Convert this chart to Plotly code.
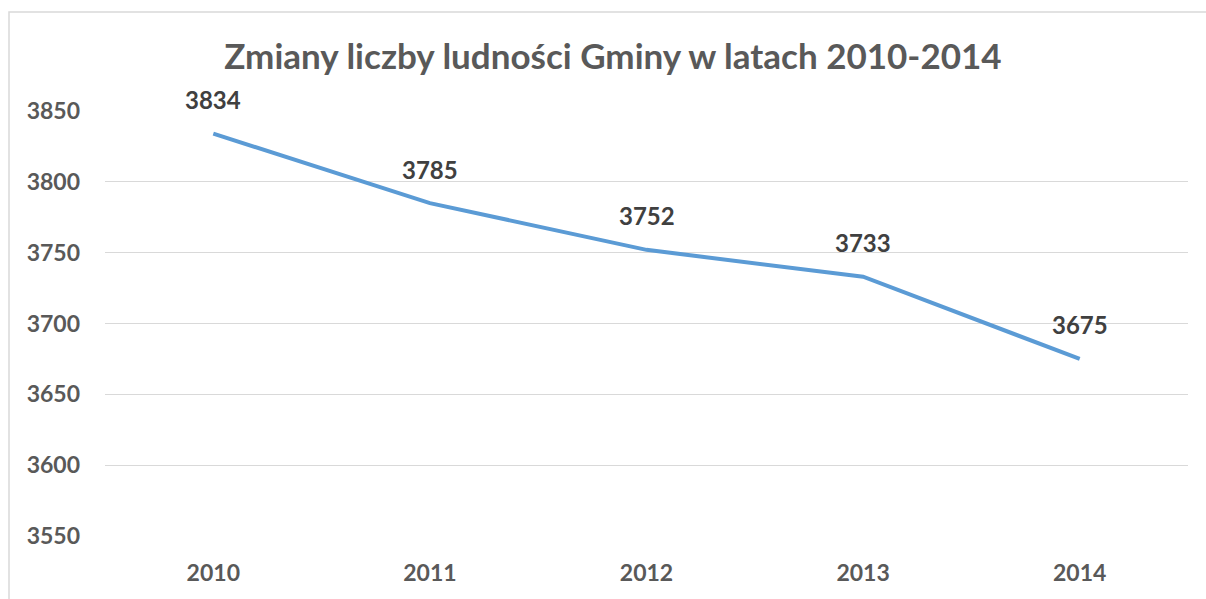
import plotly.graph_objects as go

years = ["2010", "2011", "2012", "2013", "2014"]
population = [3834, 3785, 3752, 3733, 3675]
y_ticks = [3550, 3600, 3650, 3700, 3750, 3800, 3850]
title = "Zmiany liczby ludności Gminy w latach 2010-2014"

FONT = "Lato, 'Open Sans', sans-serif"
W, H = 1206, 599
ml, mr, mt, mb = 105, 18, 111, 63
pw, ph = W - ml - mr, H - mt - mb

fig = go.Figure()
fig.add_trace(go.Scatter(
    x=years, y=population, mode="lines",
    line=dict(color="#5B9BD5", width=4),
    hoverinfo="x+y",
))

for i, v in enumerate(population):
    fig.add_annotation(
        x=i, y=v, text=str(v), showarrow=False,
        yshift=34, font=dict(family=FONT, size=24, color="#404040", weight="bold"),
    )

fig.add_shape(
    type="rect", xref="paper", yref="paper",
    x0=(9 - ml) / pw, x1=1.2, y0=-0.5, y1=(H - mb - 12) / ph,
    line=dict(color="#D9D9D9", width=1.5), layer="below",
)

fig.update_layout(
    width=W, height=H,
    margin=dict(l=ml, r=mr, t=mt, b=mb, autoexpand=False),
    paper_bgcolor="white", plot_bgcolor="white",
    showlegend=False,
    title=dict(
        text=title, x=613 / W, xanchor="center",
        y=(H - 57) / H, yanchor="middle",
        font=dict(family=FONT, size=35, color="#595959", weight="bold"),
    ),
    xaxis=dict(
        type="category", categoryorder="array", categoryarray=years,
        range=[-0.5, len(years) - 0.5], autorange=False,
        showgrid=False, zeroline=False, showline=False,
        ticks="", tickfont=dict(family=FONT, size=23, color="#595959", weight="bold"),
        ticklabelstandoff=21,
    ),
    yaxis=dict(
        range=[3550, 3850], autorange=False, tickvals=y_ticks,
        showgrid=True, gridcolor="#D9D9D9", gridwidth=1, zeroline=False,
        showline=False, ticks="",
        tickfont=dict(family=FONT, size=23, color="#595959", weight="bold"),
        ticklabelstandoff=24,
    ),
)

fig.write_html("out.html")
